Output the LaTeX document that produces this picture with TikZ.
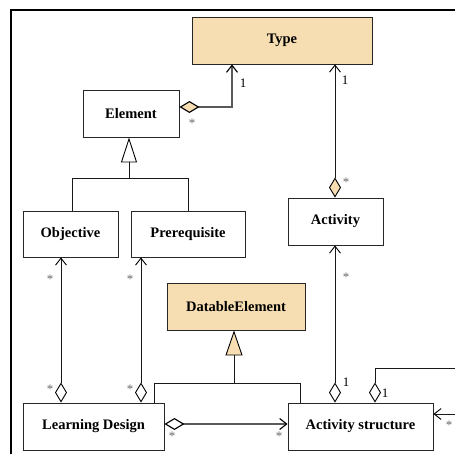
\documentclass[tikz,border=0pt]{standalone}
\usepackage{fontspec}
\setmainfont{Liberation Serif}
\usetikzlibrary{arrows.meta}
\definecolor{wheatfill}{RGB}{246,222,178}
\definecolor{linegray}{RGB}{90,90,90}
\tikzset{
  cls/.style={draw=black!85, line width=0.9pt, inner sep=0pt, font=\fontsize{14.5}{17}\selectfont\bfseries},
  hl/.style={cls, fill=wheatfill},
  conn/.style={draw=black!90, line width=0.9pt},
  gconn/.style={draw=linegray, line width=1.1pt},
  aggr/.style={{Diamond[length=20pt,width=12pt,open,color=black]}-{Straight Barb[length=7pt,width=11pt,color=black]}},
  aggrf/.style={{Diamond[length=20pt,width=12pt,fill=wheatfill,color=black]}-{Straight Barb[length=7pt,width=11pt,color=black]}},
  genopen/.style={{Triangle[open,length=25pt,width=16pt,color=black]}-},
  genfill/.style={{Triangle[length=25pt,width=17pt,fill=wheatfill,color=black]}-},
  mult/.style={font=\fontsize{13}{15}\selectfont, text=black!60, inner sep=0pt, yshift=-1.5pt},
  one/.style={font=\fontsize{13}{15}\selectfont, inner sep=0pt}
}
\begin{document}
\begin{tikzpicture}[x=1pt,y=-1pt]
\useasboundingbox (0,0) rectangle (455,454);
\draw[line width=1.8pt] (11,454) -- (11,10) -- (455,10);
% classes
\node[hl, minimum width=180, minimum height=47] (Type) at (282,40.5) {Type};
\node[cls, minimum width=96, minimum height=47] (Element) at (131,113.5) {Element};
\node[cls, minimum width=95, minimum height=46] (Objective) at (70.5,234) {Objective};
\node[cls, minimum width=114, minimum height=46] (Prereq) at (188,234) {Prerequisite};
\node[cls, minimum width=95, minimum height=47] (Activity) at (335.5,221.5) {Activity};
\node[hl, minimum width=138, minimum height=47] (Datable) at (236,306.5) {DatableElement};
\node[cls, minimum width=141, minimum height=47] (LD) at (93.5,426.5) {Learning Design};
\node[cls, minimum width=145, minimum height=47] (AS) at (360.5,426.5) {Activity structure};
% helper coordinates
\coordinate (e1) at (232,107);
\coordinate (g0) at (129,178);
\coordinate (gl) at (72,178);
\coordinate (gr) at (188,178);
\coordinate (d0) at (234,383);
\coordinate (dl) at (154,383);
\coordinate (dr) at (300,383);
\coordinate (xo) at (61,0);
\coordinate (xp) at (141,0);
\coordinate (xa) at (335,0);
\coordinate (s1) at (375,368);
\coordinate (s2) at (455,368);
\coordinate (s3) at (455,414);
\coordinate (h1) at (0,424);
% Element -> Type
\draw[gconn, aggrf] (Element.east |- e1) -- (e1) -- (e1 |- Type.south);
\node[one] (l1) at (243,83) {1};
\node[mult] (m1) at (192,122) {*};
% Activity -> Type
\draw[conn, aggrf] (Activity.north -| xa) -- (xa |- Type.south);
\node[one] (l2) at (345,80) {1};
\node[mult] (m2) at (346,181) {*};
% generalization Element
\draw[conn, genopen] (Element.south -| g0) -- (g0);
\draw[conn] (Objective.north -| gl) -- (gl) -- (gr) -- (Prereq.north -| gr);
% generalization DatableElement
\draw[conn, genfill] (Datable.south -| d0) -- (d0);
\draw[conn] (LD.north -| dl) -- (dl) -- (dr) -- (AS.north -| dr);
% LD -> Objective
\draw[conn, aggr] (LD.north -| xo) -- (xo |- Objective.south);
\node[mult] (m3) at (50,278) {*};
\node[mult] (m4) at (50,388) {*};
% LD -> Prerequisite
\draw[conn, aggr] (LD.north -| xp) -- (xp |- Prereq.south);
\node[mult] (m5) at (130,278) {*};
\node[mult] (m6) at (130,388) {*};
% AS -> Activity
\draw[conn, aggr] (AS.north -| xa) -- (xa |- Activity.south);
\node[mult] (m7) at (346,276) {*};
\node[one] (l3) at (346,382) {1};
% AS self association (leaves the frame)
\draw[conn, {Diamond[length=20pt,width=12pt,open,color=black]}-] (AS.north -| s1) -- (s1) -- (s2);
\node[one] (l4) at (385,393) {1};
\draw[conn, -{Straight Barb[length=7pt,width=11pt,color=black]}] (s3) -- (AS.east |- s3);
\node[mult] (m8) at (449,424) {*};
% LD -> AS
\draw[gconn, aggr] (LD.east |- h1) -- (AS.west |- h1);
\node[mult] (m9) at (172,435) {*};
\node[mult] (m10) at (279,435) {*};
\end{tikzpicture}
\end{document}
